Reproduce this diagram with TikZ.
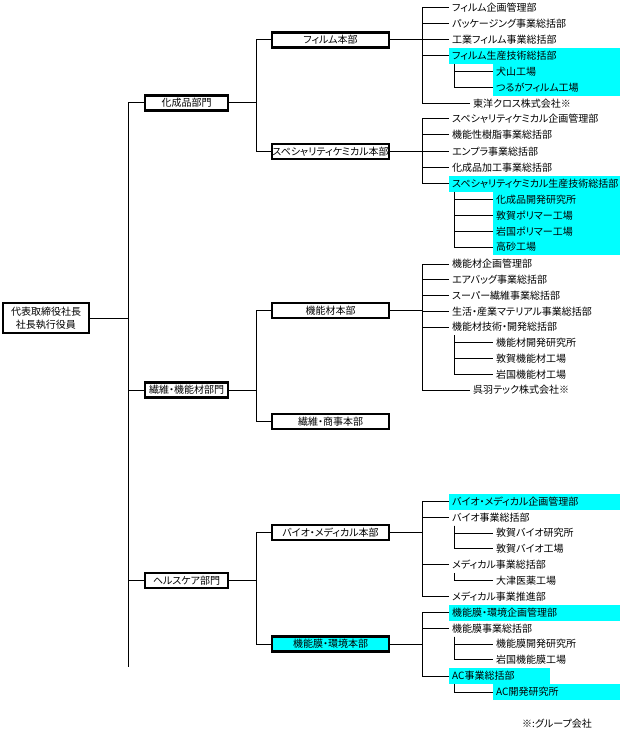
\documentclass[tikz,border=0pt]{standalone}
\usepackage{fontspec}
\setmainfont{Noto Sans CJK JP}[RawFeature=+palt]
\definecolor{aqua}{RGB}{0,255,255}
\tikzset{
  obox/.style={draw,line width=2.4pt,inner sep=0pt,fill=white},
  otop/.style={obox,minimum width=86pt,minimum height=30pt,align=center},
  odiv/.style={obox,minimum width=83pt,minimum height=15pt},
  ohq/.style={obox,minimum width=117pt,minimum height=15pt},
  oitem/.style={anchor=west,inner xsep=3pt,inner ysep=0pt,minimum height=16pt},
  ohl/.style={oitem,fill=aqua,text width=#1,align=left},
  olink/.style={line width=1pt},
  onote/.style={font=\normalsize},
}
\begin{document}
\begin{tikzpicture}[x=1pt,y=-1pt]
\useasboundingbox (0,0) rectangle (620,730);
%% president and the three divisions
\node[otop] (pres) at (46,318) {代表取締役社長\\[1pt]社長執行役員};
\node[odiv] (div1) at (186.5,103) {化成品部門};
\node[odiv] (div2) at (186.5,390) {繊維・機能材部門};
\node[odiv] (div3) at (186.5,580.5) {ヘルスケア部門};
%% headquarters
\node[ohq] (hq1) at (330.5,40) {フィルム本部};
\node[ohq] (hq2) at (330.5,151.5) {スペシャリティケミカル本部};
\node[ohq] (hq3) at (330.5,310.5) {機能材本部};
\node[ohq] (hq4) at (330.5,421.5) {繊維・商事本部};
\node[ohq] (hq5) at (330.5,532.5) {バイオ・メディカル本部};
\node[ohq,fill=aqua] (hq6) at (330.5,644) {機能膜・環境本部};
% ---- film
\node[oitem] (fa) at (449,8) {フィルム企画管理部};
\node[oitem] (fb) at (449,24) {パッケージング事業総括部};
\node[oitem] (fc) at (449,40) {工業フィルム事業総括部};
\node[ohl=165pt] (fd) at (449,56) {フィルム生産技術総括部};
\node[ohl=121pt] (fe) at (493,72) {犬山工場};
\node[ohl=121pt] (ff) at (493,88) {つるがフィルム工場};
\node[oitem] (fg) at (470,103.5) {東洋クロス株式会社※};
% ---- specialty chemicals
\node[oitem] (sa) at (449,119) {スペシャリティケミカル企画管理部};
\node[oitem] (sb) at (449,135) {機能性樹脂事業総括部};
\node[oitem] (sc) at (449,151.5) {エンプラ事業総括部};
\node[oitem] (sd) at (449,167.5) {化成品加工事業総括部};
\node[ohl=165pt] (se) at (449,183.6) {スペシャリティケミカル生産技術総括部};
\node[ohl=121pt] (sf) at (493,199.6) {化成品開発研究所};
\node[ohl=121pt] (sg) at (493,215.4) {敦賀ポリマー工場};
\node[ohl=121pt] (sh) at (493,231.2) {岩国ポリマー工場};
\node[ohl=121pt] (si) at (493,247) {高砂工場};
% ---- functional materials
\node[oitem] (ka) at (449,264) {機能材企画管理部};
\node[oitem] (kb) at (449,279.75) {エアバッグ事業総括部};
\node[oitem] (kc) at (449,295.5) {スーパー繊維事業総括部};
\node[oitem] (kd) at (449,311.25) {生活・産業マテリアル事業総括部};
\node[oitem] (ke) at (449,327) {機能材技術・開発総括部};
\node[oitem] (kf) at (493,342.75) {機能材開発研究所};
\node[oitem] (kg) at (493,358.5) {敦賀機能材工場};
\node[oitem] (kh) at (493,374.25) {岩国機能材工場};
\node[oitem] (ki) at (470,390) {呉羽テック株式会社※};
% ---- bio / medical
\node[ohl=165pt] (ba) at (449,501.5) {バイオ・メディカル企画管理部};
\node[oitem] (bb) at (449,517.3) {バイオ事業総括部};
\node[oitem] (bc) at (493,533) {敦賀バイオ研究所};
\node[oitem] (bd) at (493,548.8) {敦賀バイオ工場};
\node[oitem] (be) at (449,564.6) {メディカル事業総括部};
\node[oitem] (bf) at (493,580.4) {大津医薬工場};
\node[oitem] (bg) at (449,596.2) {メディカル事業推進部};
% ---- membranes / environment
\node[ohl=165pt] (ma) at (449,612.5) {機能膜・環境企画管理部};
\node[oitem] (mb) at (449,628.3) {機能膜事業総括部};
\node[oitem] (mc) at (493,644) {機能膜開発研究所};
\node[oitem] (md) at (493,659.8) {岩国機能膜工場};
\node[ohl=95pt] (me) at (449,676) {AC事業総括部};
\node[ohl=121pt] (mf) at (493,692) {AC開発研究所};
\node[onote] (note) at (557,724) {※:グループ会社};
%% trunk: president to divisions
\coordinate (trunk) at (128,667);
\draw[olink] (div1.west) -| (trunk);
\foreach \n in {pres.east,div2.west,div3.west}
  \draw[olink] (\n) -- (\n -| trunk);
%% divisions to headquarters
\draw[olink] (div1.east) -- ++(27,0) coordinate (cj);
\foreach \n in {hq1,hq2} \draw[olink] (\n.west) -| (cj);
\draw[olink] (div2.east) -- ++(27,0) coordinate (fj);
\foreach \n in {hq3,hq4} \draw[olink] (\n.west) -| (fj);
\draw[olink] (div3.east) -- ++(27,0) coordinate (hj);
\foreach \n in {hq5,hq6} \draw[olink] (\n.west) -| (hj);
%% headquarters to their sections
\draw[olink] (hq1.east) -- ++(32,0) coordinate (j1);
\foreach \n in {fa,fb,fc,fd,fg} \draw[olink] (\n.west) -| (j1);
\draw[olink] (hq2.east) -- ++(32,0) coordinate (j2);
\foreach \n in {sa,sb,sc,sd,se} \draw[olink] (\n.west) -| (j2);
\draw[olink] (hq3.east) -- ++(32,0) coordinate (j3);
\foreach \n in {ka,kb,kc,kd,ke,ki} \draw[olink] (\n.west) -| (j3);
\draw[olink] (hq5.east) -- ++(32,0) coordinate (j5);
\foreach \n in {ba,bb,be,bg} \draw[olink] (\n.west) -| (j5);
\draw[olink] (hq6.east) -- ++(32,0) coordinate (j6);
\foreach \n in {ma,mb,me} \draw[olink] (\n.west) -| (j6);
%% plants and labs under a section
\foreach \p/\c in {fd/fe,fd/ff,se/sf,se/sg,se/sh,se/si,ke/kf,ke/kg,ke/kh,
                   bb/bc,bb/bd,be/bf,mb/mc,mb/md,me/mf}
  \draw[olink] ([xshift=5pt]\p.south west) |- (\c.west);
\end{tikzpicture}
\end{document}
